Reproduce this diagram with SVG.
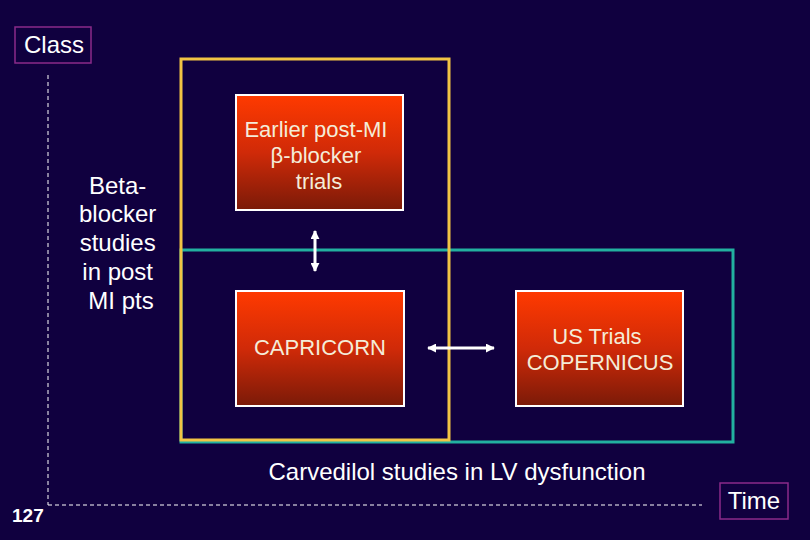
<svg xmlns="http://www.w3.org/2000/svg" width="810" height="540" viewBox="0 0 810 540">
<defs>
<linearGradient id="red" x1="0" y1="0" x2="0" y2="1">
<stop offset="0" stop-color="#ff3a00"/>
<stop offset="0.5" stop-color="#d02a08"/>
<stop offset="1" stop-color="#7a1a08"/>
</linearGradient>
<marker id="ah" viewBox="0 0 10 10" refX="9" refY="5" markerWidth="3" markerHeight="3" orient="auto-start-reverse">
<path d="M0,0 L10,5 L0,10 z" fill="#ffffff"/>
</marker>
</defs>
<style>
.t{font-family:"Liberation Sans",Arial,sans-serif;fill:#ffffff;text-anchor:middle}
.bt{font-family:"Liberation Sans",Arial,sans-serif;fill:#f4ecd8;text-anchor:middle;font-size:22px}
.node{fill:url(#red);stroke:#ffffff;stroke-width:2}
.tag{fill:none;stroke:#8a2a8a;stroke-width:1.5}
.axis{stroke:#ffffff;stroke-width:1;stroke-dasharray:4,3;fill:none}
.arrow{stroke:#ffffff;stroke-width:3;fill:none}
</style>
<rect x="0" y="0" width="810" height="540" fill="#10003f"/>

<g id="axes">
<line class="axis" x1="48" y1="75" x2="48" y2="505"/>
<line class="axis" x1="48" y1="505" x2="702" y2="505"/>
</g>

<g id="class-label">
<rect class="tag" x="15" y="27" width="76" height="36"/>
<text class="t" x="54" y="53" font-size="24">Class</text>
</g>

<g id="time-label">
<rect class="tag" x="720" y="483" width="68" height="36"/>
<text class="t" x="754" y="509" font-size="24">Time</text>
</g>

<g id="page-number">
<text x="12" y="522" font-family="Liberation Sans Narrow,Liberation Sans,Arial,sans-serif" font-weight="bold" font-size="19" fill="#ffffff">127</text>
</g>

<g id="carvedilol-group">
<rect x="181" y="250" width="552" height="192" fill="none" stroke="#22b0a0" stroke-width="3"/>
<text class="t" x="457" y="480" font-size="24">Carvedilol studies in LV dysfunction</text>
</g>

<g id="betablocker-group">
<rect x="181" y="59" width="268" height="381" fill="none" stroke="#f2c444" stroke-width="3"/>
<text class="t" font-size="24">
<tspan x="121" y="194">Beta-</tspan>
<tspan x="121" y="222">blocker</tspan>
<tspan x="121" y="251">studies</tspan>
<tspan x="121" y="280">in post</tspan>
<tspan x="121" y="309">MI pts</tspan>
</text>
</g>

<g id="earlier-trials">
<rect class="node" x="236" y="95" width="167" height="115"/>
<text class="bt">
<tspan x="319" y="137">Earlier post-MI</tspan>
<tspan x="319" y="163">β-blocker</tspan>
<tspan x="319" y="189">trials</tspan>
</text>
</g>

<g id="capricorn">
<rect class="node" x="236" y="291" width="168" height="115"/>
<text class="bt" x="320" y="355">CAPRICORN</text>
</g>

<g id="us-trials">
<rect class="node" x="516" y="291" width="167" height="115"/>
<text class="bt">
<tspan x="600" y="344">US Trials</tspan>
<tspan x="600" y="370">COPERNICUS</tspan>
</text>
</g>

<g id="connectors">
<line class="arrow" x1="315" y1="231" x2="315" y2="271" marker-start="url(#ah)" marker-end="url(#ah)"/>
<line class="arrow" x1="428" y1="348" x2="494" y2="348" marker-start="url(#ah)" marker-end="url(#ah)"/>
</g>
</svg>
